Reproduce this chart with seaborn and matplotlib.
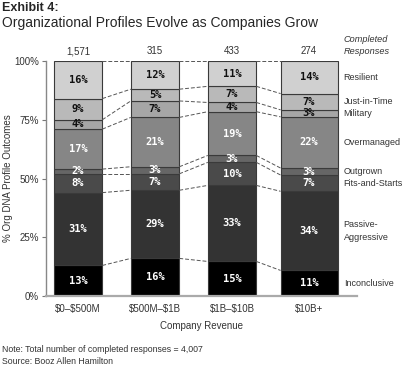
import numpy as np
import pandas as pd
import matplotlib
matplotlib.use("Agg")
import matplotlib.pyplot as plt
import seaborn as sns

categories = ["$0–$500M", "$500M–$1B", "$1B–$10B", "$10B+"]
responses = ["1,571", "315", "433", "274"]
segment_names = ["Inconclusive", "Passive-\nAggressive", "Fits-and-Starts", "Outgrown",
                 "Overmanaged", "Military", "Just-in-Time", "Resilient"]
inconclusive = [13, 16, 15, 11]
passive_aggressive = [31, 29, 33, 34]
fits_and_starts = [8, 7, 10, 7]
outgrown = [2, 3, 3, 3]
overmanaged = [17, 21, 19, 22]
military = [4, 7, 4, 3]
just_in_time = [9, 5, 7, 7]
resilient = [16, 12, 11, 14]
yticks = [0, 25, 50, 75, 100]
ytick_labels = ["0%", "25%", "50%", "75%", "100%"]

series = [inconclusive, passive_aggressive, fits_and_starts, outgrown,
          overmanaged, military, just_in_time, resilient]
colors = ["#000000", "#333333", "#4a4a4a", "#666666", "#868686", "#a6a6a6", "#b9b9b9", "#d0d0d0"]
text_colors = ["white", "white", "white", "white", "white", "#111111", "#111111", "#111111"]

sns.set_style("white")
plt.rcParams['font.family'] = ['Liberation Sans', 'DejaVu Sans']

vals = np.array(series, dtype=float)          # (segments, bars)
totals = vals.sum(axis=0)
heights = vals / totals * 100
bottoms = np.vstack([np.zeros(len(categories)), np.cumsum(heights, axis=0)[:-1]])
tops = bottoms + heights

fig = plt.figure(figsize=(4.05, 3.69), dpi=100)
ax = fig.add_axes([0.1136, 0.1978, 0.8815 - 0.1136, 0.8347 - 0.1978])

bar_w = 0.63
for k in range(len(series)):
    df = pd.DataFrame({"cat": categories, "h": heights[k]})
    sns.barplot(data=df, x="cat", y="h", bottom=bottoms[k], color=colors[k],
                width=bar_w, edgecolor="#3a3a3a", linewidth=0.8, errorbar=None,
                saturation=1, ax=ax)

# widen the last bar slightly as in reference
widths = [bar_w, bar_w, bar_w, 0.74]
for p in ax.patches:
    cx = p.get_x() + p.get_width() / 2
    i = int(round(cx))
    p.set_width(widths[i])
    p.set_x(i - widths[i] / 2)

# segment value labels
for k in range(len(series)):
    for i in range(len(categories)):
        ax.text(i, bottoms[k][i] + heights[k][i] / 2, f"{int(vals[k][i])}%",
                ha="center", va="center", fontsize=7.5, fontweight="bold",
                family="DejaVu Sans Mono", color=text_colors[k])

# dashed connectors
for i in range(len(categories) - 1):
    x0 = i + widths[i] / 2
    x1 = i + 1 - widths[i + 1] / 2
    ax.plot([x0, x1], [100, 100], ls=(0, (4, 2)), color="#555555", lw=0.7)
    for k in range(len(series) - 1):
        ax.plot([x0, x1], [tops[k][i], tops[k][i + 1]], ls=(0, (4, 2)),
                color="#555555", lw=0.7)

# response counts
for i in range(len(categories)):
    ax.text(i, 102, responses[i], ha="center", va="bottom", fontsize=7, color="#333333")
xr = 3 + widths[3] / 2 + 0.08
ax.text(xr, 102, "Responses", ha="left", va="bottom", fontsize=6.6, style="italic",
        color="#333333", clip_on=False)
ax.text(xr, 107.2, "Completed", ha="left", va="bottom", fontsize=6.6, style="italic",
        color="#333333", clip_on=False)

# right side category labels
for k in range(len(series)):
    ax.text(xr, bottoms[k][3] + heights[k][3] / 2, segment_names[k], ha="left", va="center",
            fontsize=6.5, color="#333333", clip_on=False, linespacing=1.5)

ax.set_xlim(-0.416, 3.623)
ax.set_ylim(0, 100)
ax.set_yticks(yticks)
ax.set_yticklabels(ytick_labels, fontsize=7, color="#333333")
ax.set_xticks(range(len(categories)))
ax.set_xticklabels([c.replace("$", r"\$") for c in categories], fontsize=7, color="#333333")
ax.tick_params(axis="y", length=3, width=0.8, color="#777777", pad=2, left=True)
ax.tick_params(axis="x", length=0, pad=6)
ax.set_xlabel("Company Revenue", fontsize=7, color="#333333", labelpad=5)
ax.set_ylabel("")
for s in ["top", "right"]:
    ax.spines[s].set_visible(False)
ax.spines["left"].set_color("#888888")
ax.spines["left"].set_linewidth(1.0)
ax.spines["bottom"].set_color("#aaaaaa")
ax.spines["bottom"].set_linewidth(1.6)

fig.text(8 / 405, 0.8347 - (0.8347 - 0.1978) / 2, "% Org DNA Profile Outcomes", rotation=90,
         ha="center", va="center", fontsize=7, color="#333333")

fig.text(0.005, 1 - 8 / 369, "Exhibit 4:", fontsize=9, fontweight="bold", va="center", ha="left")
fig.text(0.005, 1 - 23 / 369, "Organizational Profiles Evolve as Companies Grow", fontsize=10,
         va="center", ha="left")
fig.text(0.005, 1 - 349 / 369, "Note: Total number of completed responses = 4,007", fontsize=6.3,
         va="center", ha="left", color="#333333")
fig.text(0.005, 1 - 361 / 369, "Source: Booz Allen Hamilton", fontsize=6.3,
         va="center", ha="left", color="#333333")

fig.savefig("out.png", dpi=100)
